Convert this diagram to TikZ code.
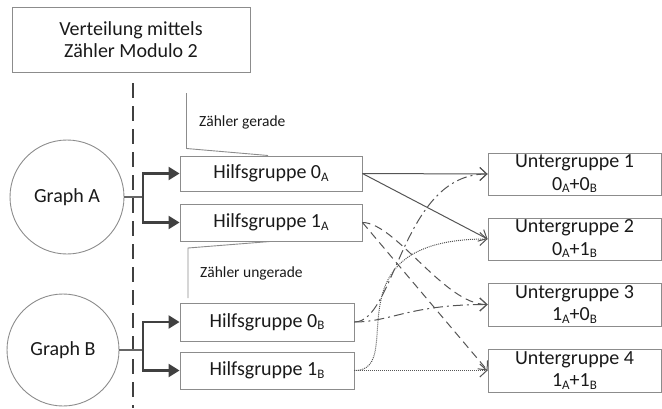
\documentclass[tikz,border=0pt]{standalone}
\usepackage{fontspec}
\setmainfont{Carlito}
\usetikzlibrary{arrows.meta}
\definecolor{boxline}{HTML}{8C8C8C}
\definecolor{darkline}{HTML}{404040}
\definecolor{linkline}{HTML}{555555}
\definecolor{txt}{HTML}{1A1A1A}
% subscript index used in the group labels
\newcommand\subidx[1]{\raisebox{-2.5pt}{\fontsize{13}{13}\selectfont #1}}

\begin{document}
\begin{tikzpicture}[x=1pt,y=-1pt,
  box/.style={draw=boxline, line width=0.9pt, inner sep=0pt, text=txt,
    font=\fontsize{20}{22.5}\selectfont, align=center},
  graphnode/.style={circle, draw=boxline, line width=0.9pt, inner sep=0pt,
    minimum size=#1, text=txt, font=\fontsize{20}{22.5}\selectfont},
  note/.style={inner sep=0pt, text=txt, font=\fontsize{15.5}{18}\selectfont},
  callline/.style={draw=boxline, line width=0.9pt},
  divider/.style={draw=darkline, line width=2pt, dash pattern=on 15pt off 8pt},
  stem/.style={draw=darkline!80, line width=1.3pt},
  feed/.style={draw=darkline, line width=2.3pt, line join=miter,
    -{Triangle[length=11pt,width=13pt]}},
  link/.style={draw=linkline, line width=1pt,
    -{Straight Barb[length=7pt,width=13pt]}},
  dashedlink/.style={dash pattern=on 8pt off 5pt},
  dashdotlink/.style={dash pattern=on 10pt off 4pt on 2pt off 4pt},
  dotlink/.style={dash pattern=on 1pt off 1pt},
]
\useasboundingbox (0,0) rectangle (662,408);

% heading
\node[box, minimum width=238pt, minimum height=65pt] (title) at (131,39.5)
  {Verteilung mittels\\Zähler Modulo 2};

% divider
\coordinate (dtop) at (133,83);
\coordinate (dbot) at (133,408);
\draw[divider] (dtop) -- (dbot);

% source graphs
\node[graphnode=114pt] (gA) at (67,197) {Graph A};
\node[graphnode=112pt] (gB) at (63,350) {Graph B};

% auxiliary groups
\node[box, minimum width=182pt, minimum height=35pt] (h0A) at (271,173.5) {Hilfsgruppe 0\subidx{A}};
\node[box, minimum width=182pt, minimum height=37pt] (h1A) at (271,222.5) {Hilfsgruppe 1\subidx{A}};
\node[box, minimum width=174pt, minimum height=38pt] (h0B) at (267,322) {Hilfsgruppe 0\subidx{B}};
\node[box, minimum width=174pt, minimum height=37pt] (h1B) at (267,370.5) {Hilfsgruppe 1\subidx{B}};

% target subgroups
\node[box, minimum width=173pt, minimum height=42pt] (u1) at (574.5,174) {Untergruppe 1\\0\subidx{A}+0\subidx{B}};
\node[box, minimum width=173pt, minimum height=42pt] (u2) at (574.5,239) {Untergruppe 2\\0\subidx{A}+1\subidx{B}};
\node[box, minimum width=173pt, minimum height=43pt] (u3) at (574.5,304.5) {Untergruppe 3\\1\subidx{A}+0\subidx{B}};
\node[box, minimum width=173pt, minimum height=43pt] (u4) at (574.5,370.5) {Untergruppe 4\\1\subidx{A}+1\subidx{B}};

% counter notes with their callout lines
\node[note, anchor=base west] (even) at (199,126) {Zähler gerade};
\node[note, anchor=base west] (odd) at (200,277) {Zähler ungerade};
\coordinate (ea) at (186.5,93);
\coordinate (eb) at (186.5,148.5);
\coordinate (ec) at (268,155.5);
\draw[callline] (ea) -- (eb) -- (ec);
\coordinate (oa) at (188,298);
\coordinate (ob) at (188,248);
\coordinate (oc) at (270,241.5);
\draw[callline] (oa) -- (ob) -- (oc);

% splitting each graph into two auxiliary groups
\coordinate (jA) at (143,197);
\coordinate (jB) at (143,350);
\draw[stem] (gA.east) -- (jA);
\draw[feed] (jA) |- (h0A.west);
\draw[feed] (jA) |- (h1A.west);
\draw[stem] (gB.east) -- (jB);
\draw[feed] (jB) |- (h0B.west);
\draw[feed] (jB) |- (h1B.west);

% combining auxiliary groups into subgroups
\draw[link] (h0A.east) -- (u1.west);
\draw[link] (h0A.east) -- (u2.west);
\draw[link, dashedlink] (h1A.east) .. controls +(33,0) and +(-43,0) .. (u3.west);
\draw[link, dashedlink] (h1A.east) -- (u4.west);
\draw[link, dashdotlink] (h0B.east) .. controls +(41,0) and +(-86,0) .. (u1.west);
\draw[link, dashdotlink] (h0B.east) .. controls +(36,0) and +(-78,0) .. (u3.west);
\draw[link, dotlink] (h1B.east) .. controls +(55,0) and +(-164,0) .. (u2.west);
\draw[link, dotlink] (h1B.east) -- (u4.west);
\end{tikzpicture}
\end{document}
